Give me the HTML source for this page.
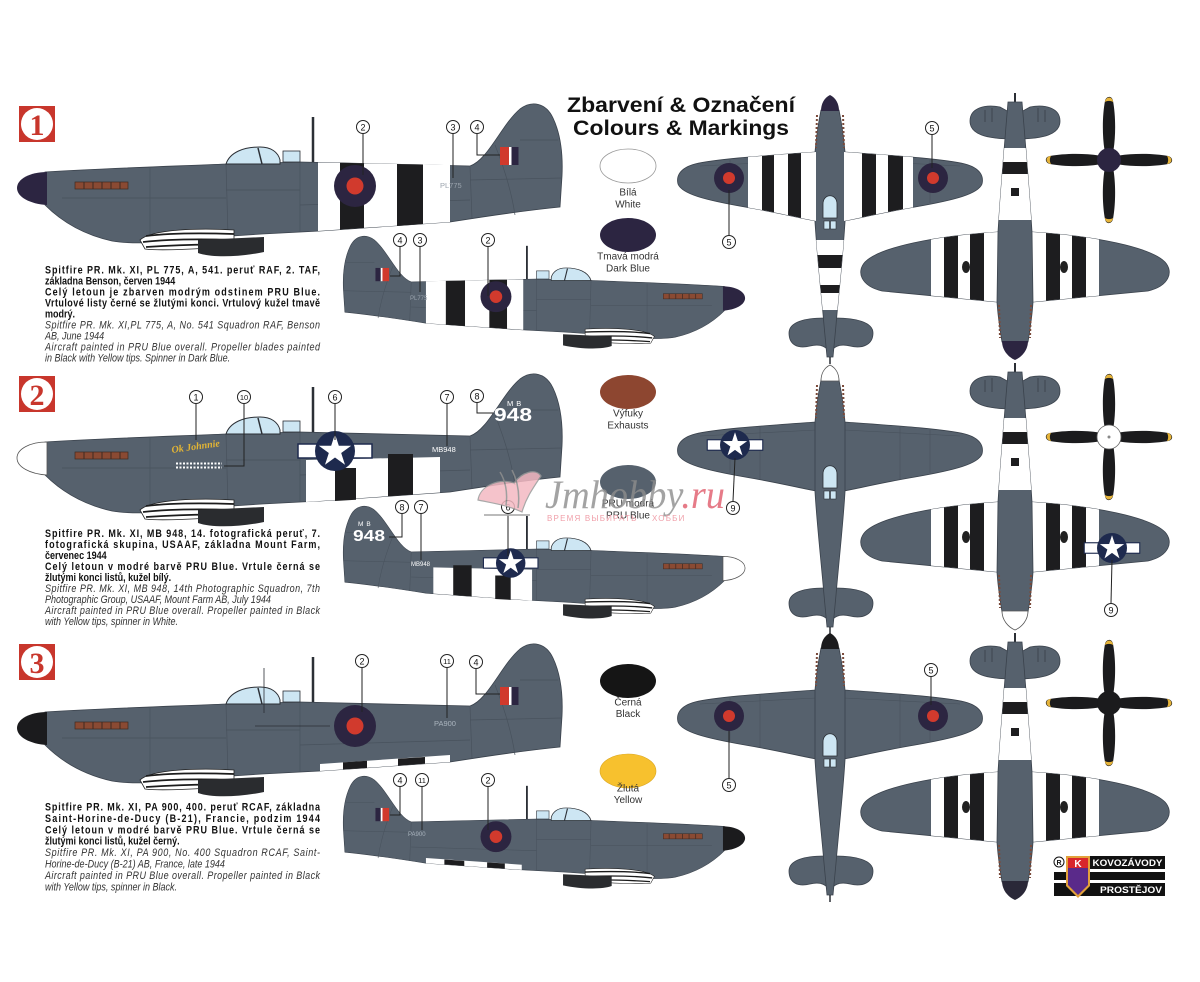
<!DOCTYPE html>
<html><head><meta charset="utf-8">
<style>
html,body{margin:0;padding:0;background:#fff}
svg{display:block}
.b{font-weight:bold;font-size:11px;fill:#111}
.i{font-style:italic;font-size:11px;fill:#333}
.lg{font-size:10px;fill:#333;text-anchor:middle}
.lb path{stroke:#222;stroke-width:1;fill:none}
.lb circle{fill:#fff;stroke:#222;stroke-width:1}
.lb text{font-size:9px;text-anchor:middle;fill:#111}
.lb text.s{font-size:7.5px}
</style></head>
<body>
<svg xmlns="http://www.w3.org/2000/svg" width="1200" height="982" viewBox="0 0 1200 982" font-family="'Liberation Sans', Arial, sans-serif">
<defs>
  <path id="fusP" d="M45,172 C110,168 180,166 226,164 L300,162 L470,166 C488,160 502,124 520,109 C532,100 546,103 553,118 C561,135 563,155 562,176 L560,207 C540,209 500,214 450,222 L320,231 L262,234 L232,236 C190,240 140,246 112,241 C85,235 62,222 45,205 Z"/>
  <path id="spin" d="M17,188 C17,179 30,172 47,172 L47,205 C30,204 17,197 17,188 Z"/>
  <g id="body">
    <use href="#fusP" fill="#56616d" stroke="#3a424c" stroke-width="0.8"/>
    <g fill="none" stroke="#48525d" stroke-width="0.7">
      <path d="M150,168 L150,240"/>
      <path d="M226,164 L228,236"/>
      <path d="M300,162 L300,232"/>
      <path d="M62,198 L226,198"/>
      <path d="M226,190 L300,190"/>
      <path d="M470,166 L472,219"/>
      <path d="M495,145 C505,170 512,195 515,215"/>
      <path d="M300,205 L470,200"/>
      <path d="M470,180 L562,178"/>
      <path d="M520,140 L558,140"/>
    </g>
    <path d="M226,164 C230,152 244,147 260,147 C271,147 278,152 280,160 L280,164 Z" fill="#cde6f3" stroke="#2b2f35" stroke-width="1"/>
    <path d="M258,148 L262,164" stroke="#2b2f35" stroke-width="1.5"/>
    <rect x="283" y="151" width="17" height="11" fill="#cde6f3" stroke="#2b2f35" stroke-width="0.8"/>
    <path d="M313,117 L313,162" stroke="#2b2f35" stroke-width="2.5"/>
    <rect x="75" y="182" width="53" height="7" fill="#8a4a33" stroke="#3e2a22" stroke-width="0.7"/>
    <path d="M84,182v7M93,182v7M102,182v7M111,182v7M120,182v7" stroke="#3e2a22" stroke-width="1"/>
    <path d="M140,240 C152,229 200,228 234,230 L234,246 C200,249 160,251 145,249 Z" fill="#fff" stroke="#222" stroke-width="0.8"/>
    <path d="M146,236 C170,233 205,233 234,234 M143,242 C170,239 205,239 234,240 M146,247 C175,245 205,244 234,245" stroke="#1c1c1c" stroke-width="1.8" fill="none"/>
    <path d="M198,240 L264,237 L264,252 C240,257 212,258 198,253 Z" fill="#2a2c2f"/>
  </g>

  <path id="star" d="M0,-17 L3.82,-5.26 L16.17,-5.25 L6.18,2.01 L9.99,13.75 L0,6.5 L-9.99,13.75 L-6.18,2.01 L-16.17,-5.25 L-3.82,-5.26 Z"/>
  <g id="usa">
    <rect x="-37" y="-7" width="74" height="14" fill="#fff" stroke="#1e2a4e" stroke-width="1.5"/>
    <circle r="20" fill="#1e2a4e"/>
    <use href="#star" fill="#fff"/>
  </g>
  <g id="flash">
    <rect x="500" y="147" width="9" height="18" fill="#d13a2d"/>
    <rect x="509" y="147" width="2.5" height="18" fill="#fff"/>
    <rect x="511.5" y="147" width="7" height="18" fill="#2c2541"/>
  </g>

  <path id="LW" d="M816,152 C760,156 715,159 695,164 C680,168 676,176 678,184 C682,194 705,200 745,207 C775,212 800,218 816,221 Z"/>
  <path id="RW" d="M844,152 C900,156 945,159 965,164 C980,168 984,176 982,184 C978,194 955,200 915,207 C885,212 860,218 844,221 Z"/>
  <path id="TF" d="M821,110 C818,125 816,140 815,152 L815,222 C817,255 821,290 824,325 L827,357 L833,357 L836,325 C839,290 843,255 845,222 L845,152 C844,140 842,125 839,110 Z"/>
  <clipPath id="twclip"><use href="#LW"/><use href="#RW"/></clipPath>
  <clipPath id="tfclip"><use href="#TF"/></clipPath>
  <g id="topv">
    <use href="#LW" fill="#56616d" stroke="#3a424c" stroke-width="0.8"/>
    <use href="#RW" fill="#56616d" stroke="#3a424c" stroke-width="0.8"/>
    <g stroke="#48525d" stroke-width="0.6" fill="none">
      <path d="M700,166 L816,160 M844,160 L960,166 M760,157 L760,209 M900,157 L900,209 M730,160 L730,203 M930,160 L930,203"/>
    </g>
    <path d="M789,333 C789,322 805,318 824,318 L836,318 C855,318 873,322 873,333 C873,345 862,349 850,346 C842,344 836,345 832,350 L828,350 C824,345 818,344 810,346 C798,349 789,345 789,333 Z" fill="#56616d" stroke="#3a424c" stroke-width="0.8"/>
    <use href="#TF" fill="#56616d" stroke="#3a424c" stroke-width="0.8"/>
    <path d="M817,115 L816,148 M843,115 L844,148" stroke="#7a4a3a" stroke-width="2" stroke-dasharray="2 2"/>
    <path d="M830,357 L830,364" stroke="#2b2f35" stroke-width="1.5"/>
    <path d="M823,218 L823,204 C823,193 837,193 837,204 L837,218 Z" fill="#cde6f3" stroke="#2b2f35" stroke-width="0.8"/>
    <rect x="824" y="221" width="5.5" height="8" fill="#cde6f3" stroke="#2b2f35" stroke-width="0.6"/>
    <rect x="830.5" y="221" width="5.5" height="8" fill="#cde6f3" stroke="#2b2f35" stroke-width="0.6"/>
  </g>
  <path id="tspin" d="M830,95 C824,98 821,104 821,111 L839,111 C839,104 836,98 830,95 Z"/>

  <path id="BLW" d="M998,232 C935,236 880,247 865,262 C856,272 861,286 882,291 L998,302 Z"/>
  <path id="BRW" d="M1032,232 C1095,236 1150,247 1165,262 C1174,272 1169,286 1148,291 L1032,302 Z"/>
  <path id="BF" d="M1008,102 L1022,102 C1026,150 1030,200 1032,232 L1033,302 C1032,318 1030,330 1028,342 L1002,342 C1000,330 998,318 997,302 L998,232 C1000,200 1004,150 1008,102 Z"/>
  <clipPath id="bwclip"><use href="#BLW"/><use href="#BRW"/></clipPath>
  <clipPath id="bfclip"><use href="#BF"/></clipPath>
  <g id="botv">
    <path d="M1015,93 L1015,112" stroke="#2b2f35" stroke-width="2"/>
    <path d="M970,121 C970,108 985,104 1000,107 L1009,112 L1021,112 L1030,107 C1045,104 1060,108 1060,121 C1060,134 1045,139 1015,139 C985,139 970,134 970,121 Z" fill="#56616d" stroke="#3a424c" stroke-width="0.8"/>
    <path d="M985,110 v12 M992,108 v14 M1038,108 v14 M1045,110 v12" stroke="#3d4550" stroke-width="1"/>
    <use href="#BLW" fill="#56616d" stroke="#3a424c" stroke-width="0.8"/>
    <use href="#BRW" fill="#56616d" stroke="#3a424c" stroke-width="0.8"/>
    <g clip-path="url(#bwclip)">
      <rect x="931" y="225" width="67" height="85" fill="#fff"/>
      <rect x="1032" y="225" width="67" height="85" fill="#fff"/>
      <rect x="944" y="225" width="14" height="85" fill="#1d1d1f"/>
      <rect x="970" y="225" width="14" height="85" fill="#1d1d1f"/>
      <rect x="1046" y="225" width="14" height="85" fill="#1d1d1f"/>
      <rect x="1072" y="225" width="14" height="85" fill="#1d1d1f"/>
    </g>
    <use href="#BF" fill="#56616d" stroke="#3a424c" stroke-width="0.8"/>
    <g clip-path="url(#bfclip)">
      <rect x="990" y="148" width="50" height="72" fill="#fff"/>
      <rect x="990" y="162" width="50" height="12" fill="#1d1d1f"/>
      <rect x="1011" y="188" width="8" height="8" fill="#1d1d1f"/>
    </g>
    <ellipse cx="966" cy="267" rx="4" ry="6" fill="#222"/>
    <ellipse cx="1064" cy="267" rx="4" ry="6" fill="#222"/>
    <circle cx="962" cy="278" r="1.6" fill="#fff"/>
    <circle cx="1068" cy="278" r="1.6" fill="#fff"/>
    <path d="M999,305 L1000,338 M1031,305 L1030,338" stroke="#7a4a3a" stroke-width="2" stroke-dasharray="2 2"/>
  </g>
  <path id="bspin" d="M1002,341 L1028,341 C1028,350 1022,357 1015,360 C1008,357 1002,350 1002,341 Z"/>

  <g id="blade">
    <path d="M10,-4.5 C26,-7 46,-6.5 59,-4 C64,-3 65,3 59,4 C46,6.5 26,7 10,4.5 Z" fill="#1b1b1d"/>
    <path d="M58,-4.2 C63.5,-3 64.5,3 58,4.2 C59.5,1.5 59.5,-1.5 58,-4.2 Z" fill="#e6b43a"/>
  </g>
  <g id="prop">
    <use href="#blade"/>
    <use href="#blade" transform="rotate(90)"/>
    <use href="#blade" transform="rotate(180)"/>
    <use href="#blade" transform="rotate(270)"/>
  </g>
  <g id="badge">
    <rect x="0" y="0" width="36" height="36" fill="#c8362c"/>
    <circle cx="18" cy="18" r="16" fill="#fff"/>
  </g>
</defs>

<use href="#badge" x="19" y="106"/>
<text x="37" y="135" text-anchor="middle" font-family="'Liberation Serif', serif" font-weight="bold" font-size="30" fill="#c8362c">1</text>
<use href="#badge" x="19" y="376"/>
<text x="37" y="405" text-anchor="middle" font-family="'Liberation Serif', serif" font-weight="bold" font-size="30" fill="#c8362c">2</text>
<use href="#badge" x="19" y="644"/>
<text x="37" y="673" text-anchor="middle" font-family="'Liberation Serif', serif" font-weight="bold" font-size="30" fill="#c8362c">3</text>

<text x="681" y="112" text-anchor="middle" font-size="21" font-weight="bold" fill="#111" textLength="228" lengthAdjust="spacingAndGlyphs">Zbarvení &amp; Označení</text>
<text x="681" y="135" text-anchor="middle" font-size="21" font-weight="bold" fill="#111" textLength="216" lengthAdjust="spacingAndGlyphs">Colours &amp; Markings</text>

<!-- ROW 1 -->
<g>
  <use href="#body"/>
  <polygon points="318,162.5 450,165 450,222 318,231" fill="#fff"/>
  <polygon points="340,162.8 364,163.2 364,228 340,229.6" fill="#1d1d1f"/>
  <polygon points="397,164 423,164.5 423,224 397,226" fill="#1d1d1f"/>
  <circle cx="355" cy="186" r="21" fill="#2c2541"/><circle cx="355" cy="186" r="8.5" fill="#d13a2d"/>
  <use href="#flash"/>
  <use href="#spin" fill="#2c2541"/>
</g>
<text x="440" y="188" font-size="7.5" fill="#9aa3ad">PL775</text>
<g transform="matrix(-0.737 0 0 0.737 757.6 159.6)">
  <use href="#body"/>
  <polygon points="318,162.5 450,165 450,222 318,231" fill="#fff"/>
  <polygon points="340,162.8 364,163.2 364,228 340,229.6" fill="#1d1d1f"/>
  <polygon points="397,164 423,164.5 423,224 397,226" fill="#1d1d1f"/>
  <circle cx="355" cy="186" r="21" fill="#2c2541"/><circle cx="355" cy="186" r="8.5" fill="#d13a2d"/>
  <use href="#flash"/>
  <use href="#spin" fill="#2c2541"/>
</g>
<text x="410" y="300" font-size="6" fill="#9aa3ad">PL775</text>

<!-- ROW 2 -->
<g transform="translate(0,270)">
  <use href="#body"/>
  <polygon points="306,190 440,187 440,222.5 306,232" fill="#fff"/>
  <polygon points="335,198 356,198 356,229.8 335,231" fill="#1d1d1f"/>
  <polygon points="388,184 413,184 413,224.6 388,226.4" fill="#1d1d1f"/>
  <use href="#usa" transform="translate(335,181)"/>
  <use href="#spin" fill="#fff" stroke="#555" stroke-width="0.8"/>
</g>
<text x="432" y="452" font-size="7.5" fill="#fff">MB948</text>
<text x="507" y="406" font-size="7.5" fill="#fff" letter-spacing="3">MB</text>
<text x="494" y="421" font-size="18" font-weight="bold" fill="#fff" textLength="38" lengthAdjust="spacingAndGlyphs">948</text>
<text x="172" y="453" font-size="10" font-weight="bold" font-style="italic" font-family="'Liberation Serif', serif" fill="#e3b534" transform="rotate(-8 172 453)">Ok Johnnie</text>
<path d="M176,463.5 L222,463.5 M176,467.5 L222,467.5" stroke="#fff" stroke-width="2" stroke-dasharray="2 1.5"/>
<g transform="matrix(-0.737 0 0 0.737 757.6 429.6)">
  <use href="#body"/>
  <polygon points="306,190 440,187 440,222.5 306,232" fill="#fff"/>
  <polygon points="335,198 356,198 356,229.8 335,231" fill="#1d1d1f"/>
  <polygon points="388,184 413,184 413,224.6 388,226.4" fill="#1d1d1f"/>
  <use href="#usa" transform="translate(335,181)"/>
  <use href="#spin" fill="#fff" stroke="#555" stroke-width="1"/>
</g>
<text x="358" y="526" font-size="6.5" fill="#fff" letter-spacing="3">MB</text>
<text x="353" y="541" font-size="16" font-weight="bold" fill="#fff" textLength="32" lengthAdjust="spacingAndGlyphs">948</text>
<text x="411" y="566" font-size="6" fill="#fff">MB948</text>

<!-- ROW 3 -->
<g transform="translate(0,540)">
  <use href="#body"/>
  <polygon points="320,224 450,215 450,222 320,231" fill="#fff"/>
  <polygon points="343,222.4 367,220.8 367,228 343,229.5" fill="#1d1d1f"/>
  <polygon points="398,218.8 425,217 425,223.8 398,225.7" fill="#1d1d1f"/>
  <circle cx="355" cy="186" r="21" fill="#2c2541"/><circle cx="355" cy="186" r="8.5" fill="#d13a2d"/>
  <use href="#flash"/>
  <path d="M264,128 L264,173 M255,186 L330,186" stroke="#2b2f35" stroke-width="0.8" fill="none"/>
  <use href="#spin" fill="#1b1b1d"/>
</g>
<text x="434" y="726" font-size="7.5" fill="#aab4be">PA900</text>
<g transform="matrix(-0.737 0 0 0.737 757.6 699.6)">
  <use href="#body"/>
  <polygon points="320,224 450,215 450,222 320,231" fill="#fff"/>
  <polygon points="343,222.4 367,220.8 367,228 343,229.5" fill="#1d1d1f"/>
  <polygon points="398,218.8 425,217 425,223.8 398,225.7" fill="#1d1d1f"/>
  <circle cx="355" cy="186" r="21" fill="#2c2541"/><circle cx="355" cy="186" r="8.5" fill="#d13a2d"/>
  <use href="#flash"/>
  <use href="#spin" fill="#1b1b1d"/>
</g>
<text x="408" y="836" font-size="6" fill="#aab4be">PA900</text>

<!-- TOP VIEWS -->
<g>
  <use href="#topv"/>
  <g clip-path="url(#twclip)">
    <rect x="748" y="140" width="68" height="90" fill="#fff"/>
    <rect x="844" y="140" width="69" height="90" fill="#fff"/>
    <rect x="762" y="140" width="12" height="90" fill="#1d1d1f"/>
    <rect x="788" y="140" width="13" height="90" fill="#1d1d1f"/>
    <rect x="862" y="140" width="14" height="90" fill="#1d1d1f"/>
    <rect x="888" y="140" width="15" height="90" fill="#1d1d1f"/>
  </g>
  <g clip-path="url(#tfclip)">
    <rect x="810" y="240" width="40" height="70" fill="#fff"/>
    <rect x="810" y="255" width="40" height="13" fill="#1d1d1f"/>
    <rect x="810" y="285" width="40" height="8" fill="#1d1d1f"/>
  </g>
  <circle cx="729" cy="178" r="15" fill="#2c2541"/><circle cx="729" cy="178" r="6" fill="#d13a2d"/>
  <circle cx="933" cy="178" r="15" fill="#2c2541"/><circle cx="933" cy="178" r="6" fill="#d13a2d"/>
  <use href="#tspin" fill="#2c2541"/>
</g>
<g transform="translate(0,270)">
  <use href="#topv"/>
  <use href="#usa" transform="translate(735,175) scale(0.75)"/>
  <use href="#tspin" fill="#fff" stroke="#555" stroke-width="0.8"/>
</g>
<g transform="translate(0,538)">
  <use href="#topv"/>
  <circle cx="729" cy="178" r="15" fill="#2c2541"/><circle cx="729" cy="178" r="6" fill="#d13a2d"/>
  <circle cx="933" cy="178" r="15" fill="#2c2541"/><circle cx="933" cy="178" r="6" fill="#d13a2d"/>
  <use href="#tspin" fill="#1b1b1d"/>
</g>

<!-- BOTTOM VIEWS -->
<g>
  <use href="#botv"/>
  <use href="#bspin" fill="#2c2541"/>
</g>
<g transform="translate(0,270)">
  <use href="#botv"/>
  <use href="#usa" transform="translate(1112,278) scale(0.75)"/>
  <use href="#bspin" fill="#fff" stroke="#555" stroke-width="0.8"/>
</g>
<g transform="translate(0,540)">
  <use href="#botv"/>
  <use href="#bspin" fill="#2a2838"/>
</g>

<!-- PROPELLERS -->
<g transform="translate(1109,160)">
  <use href="#prop"/>
  <circle r="12" fill="#2c2541"/>
</g>
<g transform="translate(1109,437)">
  <use href="#prop"/>
  <circle r="12" fill="#fff" stroke="#666" stroke-width="0.8"/>
  <circle r="1.5" fill="#888"/>
</g>
<g transform="translate(1109,703)">
  <use href="#prop"/>
  <circle r="12" fill="#1b1b1d"/>
</g>

<!-- CALLOUTS -->
<g class="lb">
  <path d="M363,134V175"/><circle cx="363" cy="127" r="6.5"/><text x="363" y="130.3">2</text>
  <path d="M453,134V178"/><circle cx="453" cy="127" r="6.5"/><text x="453" y="130.3">3</text>
  <path d="M477,134V155H500"/><circle cx="477" cy="127" r="6.5"/><text x="477" y="130.3">4</text>
  <path d="M400,247V276H390"/><circle cx="400" cy="240" r="6.5"/><text x="400" y="243.3">4</text>
  <path d="M420,247V292"/><circle cx="420" cy="240" r="6.5"/><text x="420" y="243.3">3</text>
  <path d="M488,247V296"/><circle cx="488" cy="240" r="6.5"/><text x="488" y="243.3">2</text>
  <path d="M932,135V168"/><circle cx="932" cy="128" r="6.5"/><text x="932" y="131.3">5</text>
  <path d="M729,190V235"/><circle cx="729" cy="242" r="6.5"/><text x="729" y="245.3">5</text>

  <path d="M196,404V440"/><circle cx="196" cy="397" r="6.5"/><text x="196" y="400.3">1</text>
  <path d="M244,404V466H224"/><circle cx="244" cy="397" r="6.5"/><text class="s" x="244" y="399.8">10</text>
  <path d="M335,404V440"/><circle cx="335" cy="397" r="6.5"/><text x="335" y="400.3">6</text>
  <path d="M447,404V446"/><circle cx="447" cy="397" r="6.5"/><text x="447" y="400.3">7</text>
  <path d="M477,403V413H493"/><circle cx="477" cy="396" r="6.5"/><text x="477" y="399.3">8</text>
  <path d="M402,514V537H389"/><circle cx="402" cy="507" r="6.5"/><text x="402" y="510.3">8</text>
  <path d="M421,514V560"/><circle cx="421" cy="507" r="6.5"/><text x="421" y="510.3">7</text>
  <path d="M508,514V556"/><circle cx="508" cy="507" r="6.5"/><text x="508" y="510.3">6</text>
  <path d="M735,458L733,501"/><circle cx="733" cy="508" r="6.5"/><text x="733" y="511.3">9</text>
  <path d="M1112,560L1111,603"/><circle cx="1111" cy="610" r="6.5"/><text x="1111" y="613.3">9</text>

  <path d="M362,668V712"/><circle cx="362" cy="661" r="6.5"/><text x="362" y="664.3">2</text>
  <path d="M447,668V718"/><circle cx="447" cy="661" r="6.5"/><text class="s" x="447" y="663.8">11</text>
  <path d="M476,669V694H500"/><circle cx="476" cy="662" r="6.5"/><text x="476" y="665.3">4</text>
  <path d="M400,787V815H390"/><circle cx="400" cy="780" r="6.5"/><text x="400" y="783.3">4</text>
  <path d="M422,787V830"/><circle cx="422" cy="780" r="6.5"/><text class="s" x="422" y="782.8">11</text>
  <path d="M488,787V830"/><circle cx="488" cy="780" r="6.5"/><text x="488" y="783.3">2</text>
  <path d="M931,677V705"/><circle cx="931" cy="670" r="6.5"/><text x="931" y="673.3">5</text>
  <path d="M729,731V778"/><circle cx="729" cy="785" r="6.5"/><text x="729" y="788.3">5</text>
</g>

<!-- LEGEND -->
<ellipse cx="628" cy="166" rx="28" ry="17" fill="#fff" stroke="#999" stroke-width="0.8"/>
<text class="lg" x="628" y="195.5">Bílá</text>
<text class="lg" x="628" y="207.5">White</text>
<ellipse cx="628" cy="235" rx="28" ry="17" fill="#2c2541"/>
<text class="lg" x="628" y="259.5">Tmavá modrá</text>
<text class="lg" x="628" y="271.5">Dark Blue</text>
<ellipse cx="628" cy="392" rx="28" ry="17" fill="#8d4630"/>
<text class="lg" x="628" y="416.5">Výfuky</text>
<text class="lg" x="628" y="428.5">Exhausts</text>
<ellipse cx="628" cy="482" rx="28" ry="17" fill="#56616d"/>
<text class="lg" x="628" y="506.5">PRU modrá</text>
<text class="lg" x="628" y="518.5">PRU Blue</text>
<ellipse cx="628" cy="681" rx="28" ry="17" fill="#151515"/>
<text class="lg" x="628" y="705.5">Černá</text>
<text class="lg" x="628" y="717">Black</text>
<ellipse cx="628" cy="771" rx="28" ry="17" fill="#f7c12e" stroke="#d9a520" stroke-width="0.6"/>
<text class="lg" x="628" y="791.5">Žlutá</text>
<text class="lg" x="628" y="803">Yellow</text>

<!-- TEXT BLOCKS (condensed horizontally) -->
<g transform="scale(0.82,1)">
  <text class="b" x="54.9" y="273.5" textLength="335.4" lengthAdjust="spacing">Spitfire PR. Mk. XI, PL 775, A, 541. peruť RAF, 2. TAF,</text>
  <text class="b" x="54.9" y="284.5">základna Benson, červen 1944</text>
  <text class="b" x="54.9" y="295.5" textLength="335.4" lengthAdjust="spacing">Celý letoun je zbarven modrým odstinem PRU Blue.</text>
  <text class="b" x="54.9" y="306.5" textLength="335.4" lengthAdjust="spacing">Vrtulové listy černé se žlutými konci. Vrtulový kužel tmavě</text>
  <text class="b" x="54.9" y="317.5">modrý.</text>
  <text class="i" x="54.9" y="328.5" textLength="335.4" lengthAdjust="spacing">Spitfire PR. Mk. XI,PL 775,  A, No. 541 Squadron RAF, Benson</text>
  <text class="i" x="54.9" y="339.5">AB, June 1944</text>
  <text class="i" x="54.9" y="350.5" textLength="335.4" lengthAdjust="spacing">Aircraft painted in PRU Blue overall. Propeller blades painted</text>
  <text class="i" x="54.9" y="361.5">in Black with Yellow tips. Spinner in Dark Blue.</text>

  <text class="b" x="54.9" y="537" textLength="335.4" lengthAdjust="spacing">Spitfire PR. Mk. XI,  MB 948, 14. fotografická peruť, 7.</text>
  <text class="b" x="54.9" y="548" textLength="335.4" lengthAdjust="spacing">fotografická skupina, USAAF, základna Mount Farm,</text>
  <text class="b" x="54.9" y="559">červenec 1944</text>
  <text class="b" x="54.9" y="570" textLength="335.4" lengthAdjust="spacing">Celý letoun v modré barvě PRU Blue. Vrtule černá se</text>
  <text class="b" x="54.9" y="581">žlutými konci listů, kužel bílý.</text>
  <text class="i" x="54.9" y="592" textLength="335.4" lengthAdjust="spacing">Spitfire PR. Mk. XI,  MB 948, 14th Photographic Squadron, 7th</text>
  <text class="i" x="54.9" y="603">Photographic Group, USAAF, Mount Farm AB, July 1944</text>
  <text class="i" x="54.9" y="614" textLength="335.4" lengthAdjust="spacing">Aircraft painted in PRU Blue overall. Propeller  painted in Black</text>
  <text class="i" x="54.9" y="625">with Yellow tips, spinner in White.</text>

  <text class="b" x="54.9" y="810.5" textLength="335.4" lengthAdjust="spacing">Spitfire PR. Mk. XI,   PA 900, 400. peruť  RCAF, základna</text>
  <text class="b" x="54.9" y="821.9" textLength="335.4" lengthAdjust="spacing">Saint-Horine-de-Ducy (B-21), Francie, podzim 1944</text>
  <text class="b" x="54.9" y="833.3" textLength="335.4" lengthAdjust="spacing">Celý letoun v modré barvě PRU Blue. Vrtule černá se</text>
  <text class="b" x="54.9" y="844.7">žlutými konci listů, kužel černý.</text>
  <text class="i" x="54.9" y="856.1" textLength="335.4" lengthAdjust="spacing">Spitfire PR. Mk. XI,   PA 900, No. 400 Squadron RCAF, Saint-</text>
  <text class="i" x="54.9" y="867.5">Horine-de-Ducy (B-21)  AB, France, late 1944</text>
  <text class="i" x="54.9" y="878.9" textLength="335.4" lengthAdjust="spacing">Aircraft painted in PRU Blue overall. Propeller  painted in Black</text>
  <text class="i" x="54.9" y="890.3">with Yellow tips, spinner in Black.</text>
</g>

<!-- WATERMARK -->
<g opacity="0.85">
  <path d="M478,500 C480,486 498,478 514,483 C522,472 536,468 541,476 C533,488 526,498 522,512 C507,505 492,503 478,500 Z" fill="#f4b9c2" stroke="#9a9a9a" stroke-width="1.2"/>
  <path d="M500,472 C505,480 508,492 506,505 M512,470 C518,482 520,494 518,508" stroke="#8f8f8f" stroke-width="1.5" fill="none"/>
  <path d="M484,515 L530,515" stroke="#b0b0b0" stroke-width="2"/>
</g>
<text x="545" y="508" font-size="40" font-style="italic" font-family="'Liberation Serif', serif" textLength="180" lengthAdjust="spacingAndGlyphs" opacity="0.8"><tspan fill="#8d8d8d">Jmhobby</tspan><tspan fill="#e05b6b">.ru</tspan></text>
<text x="547" y="521" font-size="8" fill="#f0a0aa" letter-spacing="1.2">ВРЕМЯ ВЫБИРАТЬ</text>
<text x="652" y="521" font-size="8" fill="#f0a0aa" letter-spacing="1.2">ХОББИ</text>

<!-- MANUFACTURER LOGO -->
<g>
  <circle cx="1059" cy="862" r="5" fill="#fff" stroke="#111" stroke-width="1"/>
  <text x="1059" y="865" font-size="7" text-anchor="middle" font-weight="bold" fill="#111">R</text>
  <rect x="1090" y="856" width="75" height="13" fill="#111"/>
  <text x="1127.5" y="866" font-size="9" font-weight="bold" fill="#fff" text-anchor="middle" textLength="70" lengthAdjust="spacingAndGlyphs">KOVOZÁVODY</text>
  <rect x="1054" y="872" width="111" height="8" fill="#111"/>
  <rect x="1054" y="883" width="111" height="13" fill="#111"/>
  <text x="1162" y="893" font-size="9" font-weight="bold" fill="#fff" text-anchor="end" textLength="62" lengthAdjust="spacingAndGlyphs">PROSTĚJOV</text>
  <path d="M1066,856 L1090,856 L1090,886 L1078,898 L1066,886 Z" fill="#e3a13a"/>
  <path d="M1068,858 L1088,858 L1088,868 L1068,868 Z" fill="#d8262c"/>
  <path d="M1068,868 L1088,868 L1088,885 L1078,895 L1068,885 Z" fill="#5a2a8a"/>
  <text x="1078" y="867" font-size="10" font-weight="bold" fill="#fff" text-anchor="middle">K</text>
</g>
</svg>
</body></html>
